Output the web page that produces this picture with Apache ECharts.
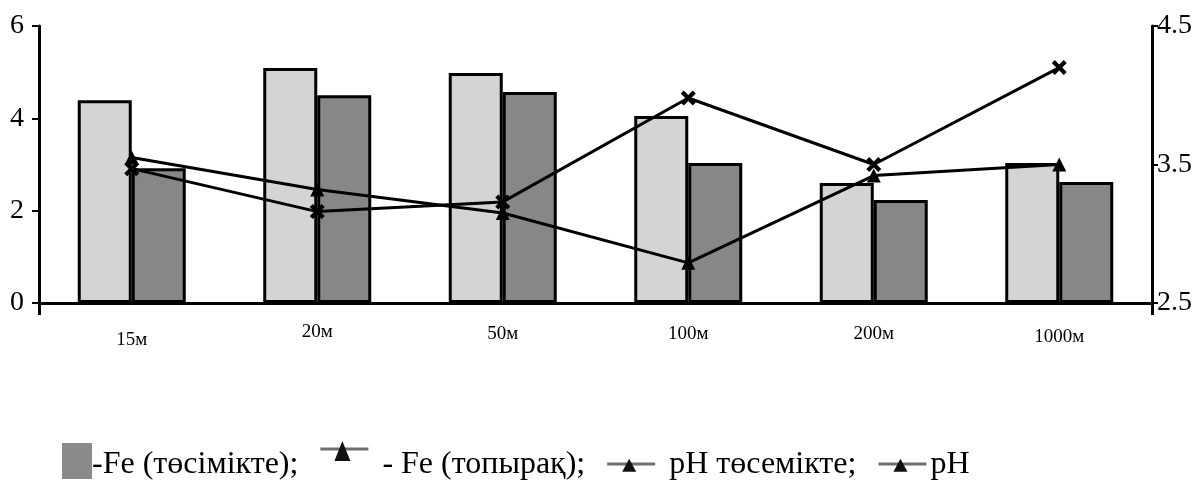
<!DOCTYPE html>
<html>
<head>
<meta charset="utf-8">
<script src="https://cdn.jsdelivr.net/npm/echarts@6/dist/echarts.min.js"></script>
<style>
  html, body { margin: 0; padding: 0; background: #fff; }
  #chart { width: 1198px; height: 498px; }
</style>
</head>
<body>
<div id="chart"></div>
<script>
// Sampling distances
const categories = ['15м', '20м', '50м', '100м', '200м', '1000м'];
// Fe content, left axis
const feSoil = [4.39, 5.09, 4.98, 4.05, 2.60, 3.03];
const feSediment = [2.92, 4.50, 4.57, 3.03, 2.23, 2.62];
// pH, right axis
const phSediment = [3.55, 3.32, 3.15, 2.79, 3.42, 3.50];
const phSoil = [3.47, 3.16, 3.23, 3.98, 3.50, 4.20];
// Axis tick values
const leftTicks = [0, 2, 4, 6];
const rightTicks = [2.5, 3.5, 4.5];
// Legend texts
const legendTexts = ['-Fe (төсімікте);', ' - Fe (топырақ);', ' pH төсемікте;', 'pH'];

// small vertical drop of each category label
const labelDrop = [8, 0, 2, 2, 2, 5];

const SERIF = '"Liberation Serif", "Times New Roman", serif';
const chart = echarts.init(document.getElementById('chart'), null, { renderer: 'canvas' });

const rich = {};
labelDrop.forEach((d, i) => {
  rich['d' + i] = { padding: [d, 0, 0, 0], fontFamily: SERIF, fontSize: 19, color: '#000' };
});

// legend row, laid out from measured text widths
function buildLegend() {
  const fs = 32;
  const ctx = document.createElement('canvas').getContext('2d');
  ctx.font = fs + 'px ' + SERIF;
  const w = t => ctx.measureText(t).width;
  const midY = 465;
  const els = [];
  let x = 62;
  els.push({ type: 'rect', shape: { x: x, y: midY - 22, width: 30, height: 36 }, style: { fill: '#8a8a8a' } });
  x += 30;
  const icon = (x0, yLine, big) => {
    els.push({ type: 'line', shape: { x1: x0, y1: yLine, x2: x0 + 48, y2: yLine }, style: { stroke: '#6e6e6e', lineWidth: 3 } });
    const h = big ? 20 : 13, hw = big ? 8 : 7;
    els.push({ type: 'polygon', shape: { points: [[x0 + 22, yLine - h * 0.4], [x0 + 22 - hw, yLine + h * 0.6], [x0 + 22 + hw, yLine + h * 0.6]] }, style: { fill: '#111' } });
  };
  legendTexts.forEach((t, i) => {
    els.push({ type: 'text', x: x, y: midY, style: { text: t, font: fs + 'px ' + SERIF, fill: '#000', textVerticalAlign: 'middle' } });
    x += w(t);
    if (i < legendTexts.length - 1) {
      x += 22;
      icon(x, i === 0 ? midY - 16 : midY - 1, i === 0);
      x += 48 + (i === legendTexts.length - 2 ? 4 : 6);
    }
  });
  return els;
}

chart.setOption({
  animation: false,
  backgroundColor: '#fff',
  grid: { left: 39, right: 46, top: 26, bottom: 195, containLabel: false },
  xAxis: {
    type: 'category',
    data: categories,
    axisLine: { lineStyle: { color: '#000', width: 3 } },
    axisTick: { show: true, length: 12, lineStyle: { color: '#000', width: 3 }, interval: (i) => i === 0 },
    axisLabel: {
      margin: 20,
      formatter: (v, i) => '{d' + i + '|' + v + '}',
      rich: rich
    },
    splitLine: { show: false }
  },
  yAxis: [
    {
      type: 'value', min: 0, max: 6, position: 'left',
      axisLine: { show: true, lineStyle: { color: '#000', width: 3 } },
      axisTick: { show: true, inside: false, length: 7, lineStyle: { color: '#000', width: 2 }, customValues: leftTicks },
      axisLabel: { color: '#000', fontFamily: SERIF, fontSize: 28, margin: 15, customValues: leftTicks },
      splitLine: { show: false }
    },
    {
      type: 'value', min: 2.5, max: 4.5, position: 'right',
      axisLine: { show: true, lineStyle: { color: '#000', width: 3 } },
      axisTick: { show: true, inside: false, length: 6, lineStyle: { color: '#000', width: 2 }, customValues: rightTicks },
      axisLabel: { color: '#000', fontFamily: SERIF, fontSize: 28, margin: 5, customValues: rightTicks },
      splitLine: { show: false }
    }
  ],
  series: [
    {
      name: 'Fe (топырақ)', type: 'bar', yAxisIndex: 0, data: feSoil,
      barWidth: 54, barGap: '0%',
      itemStyle: { color: '#d4d4d4', borderColor: '#000', borderWidth: 3 }
    },
    {
      name: 'Fe (төсімікте)', type: 'bar', yAxisIndex: 0, data: feSediment,
      barWidth: 54, barGap: '0%',
      itemStyle: { color: '#878787', borderColor: '#000', borderWidth: 3 }
    },
    {
      name: 'pH төсемікте', type: 'line', yAxisIndex: 1, data: phSediment,
      symbol: 'triangle', symbolSize: 14,
      lineStyle: { color: '#000', width: 3 }, itemStyle: { color: '#000' }, z: 5
    },
    {
      name: 'pH', type: 'line', yAxisIndex: 1, data: phSoil,
      symbol: 'path://M0,2 L2,0 L5,3 L8,0 L10,2 L7,5 L10,8 L8,10 L5,7 L2,10 L0,8 L3,5 Z', symbolSize: 15,
      lineStyle: { color: '#000', width: 3 }, itemStyle: { color: '#000' }, z: 5
    }
  ],
  graphic: buildLegend()
});
</script>
</body>
</html>
